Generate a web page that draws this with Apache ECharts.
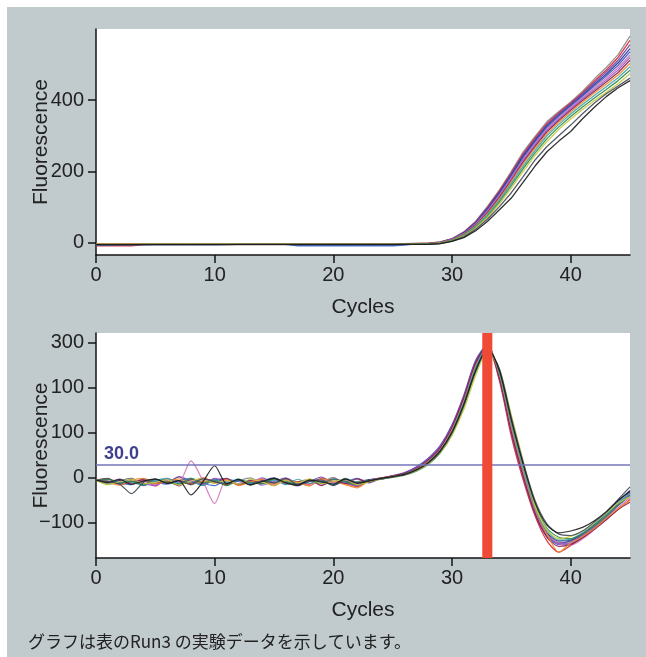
<!DOCTYPE html>
<html>
<head>
<meta charset="utf-8">
<script src="https://cdn.jsdelivr.net/npm/echarts@6/dist/echarts.min.js"></script>
<style>
  html, body { margin: 0; padding: 0; background: #ffffff; }
  #wrap { position: relative; width: 646px; height: 657px; }
  #panel { position: absolute; left: 7px; top: 7px; right: 0; bottom: 0; background: #c1cacc; }
  #chart { position: absolute; left: 0; top: 0; width: 646px; height: 657px; }
</style>
</head>
<body>
<div id="wrap"><div id="panel"></div><div id="chart"></div></div>
<script>
// ---------- DATA ----------
const cycles = [0,1,2,3,4,5,6,7,8,9,10,11,12,13,14,15,16,17,18,19,20,21,22,23,24,25,26,27,28,29,30,31,32,33,34,35,36,37,38,39,40,41,42,43,44,45];
const xTickValues = [0, 10, 20, 30, 40];
const topYTickValues = [0, 200, 400];
const bottomYTickValues = [-100, 0, 100, 200, 300];
const bottomYTickLabels = ['\u2212100', '0', '100', '100', '300'];
const thresholdValue = 30;
const thresholdLabel = '30.0';
const ctBand = [32.55, 33.4];
const xTitle = 'Cycles';
const yTitle = 'Fluorescence';
const caption = 'グラフは表のRun3 の実験データを示しています。';
const wellColors = ['#8a8a8a','#d8262e','#6b3fa6','#2a2e8c','#3b62c6','#d472b8','#9a5bc4','#8c1d4e','#f0882a','#3aa3a8','#2e8b4a','#c6c640','#404a5a','#1b1b1b'];

// Amplification curves (top panel), cycles 0..45
const amp01 = [-4,-4,-5,-5,-4,-4,-5,-4,-4,-5,-4,-4,-3,-4,-4,-3,-4,-4,-3,-4,-3,-3,-4,-3,-3,-3,-3,-2,-2,2,11,30,60,102,148,200,255,298,340,368,395,425,460,492,528,580];
const amp02 = [-9,-9,-9,-9,-6,-5,-5,-4,-4,-4,-4,-4,-4,-4,-3,-4,-4,-4,-3,-3,-4,-3,-3,-4,-3,-3,-3,-3,-2,1,10,29,58,99,145,196,250,294,335,365,392,421,454,485,520,568];
const amp03 = [-5,-5,-5,-4,-5,-4,-4,-5,-4,-4,-4,-5,-4,-4,-4,-4,-3,-4,-4,-4,-3,-4,-4,-3,-3,-4,-3,-3,-3,1,10,28,57,97,142,193,246,290,331,362,389,418,449,479,512,556];
const amp04 = [-6,-6,-6,-5,-5,-5,-5,-5,-5,-4,-4,-4,-4,-4,-4,-4,-4,-4,-4,-4,-4,-4,-4,-4,-4,-4,-4,-3,-3,0,9,27,55,94,139,189,242,286,327,358,386,414,444,473,505,545];
const amp05 = [-7,-7,-6,-6,-6,-6,-6,-6,-6,-6,-6,-5,-5,-5,-5,-5,-5,-9,-9,-9,-9,-9,-9,-9,-9,-9,-7,-4,-3,0,9,26,54,92,136,186,238,282,323,355,383,411,440,468,498,536];
const amp06 = [-5,-5,-5,-5,-5,-4,-5,-5,-4,-4,-5,-4,-4,-4,-4,-4,-4,-4,-4,-3,-4,-4,-3,-4,-3,-3,-3,-3,-3,0,8,25,52,89,133,182,234,278,319,351,380,407,435,462,491,527];
const amp07 = [-6,-6,-5,-6,-5,-5,-5,-5,-5,-5,-5,-5,-4,-5,-4,-4,-5,-4,-4,-4,-4,-4,-4,-4,-4,-4,-4,-4,-4,-1,8,24,51,87,130,179,230,274,315,347,376,403,430,457,485,520];
const amp08 = [-5,-5,-5,-5,-5,-5,-4,-5,-5,-4,-4,-4,-4,-4,-4,-4,-4,-4,-4,-4,-4,-4,-4,-4,-4,-4,-4,-4,-4,-1,7,23,49,84,127,175,226,270,311,343,372,399,425,451,478,512];
const amp09 = [-4,-4,-4,-4,-4,-4,-4,-4,-4,-4,-4,-4,-4,-4,-4,-4,-4,-4,-4,-4,-4,-4,-4,-4,-4,-4,-4,-4,-4,-1,7,22,47,81,123,171,221,265,306,338,367,394,420,445,471,503];
const amp10 = [-6,-6,-6,-6,-5,-5,-5,-5,-5,-5,-5,-5,-5,-5,-5,-5,-5,-5,-5,-5,-5,-5,-5,-5,-5,-5,-5,-5,-4,-2,6,21,45,78,119,166,215,259,300,332,361,388,413,438,463,494];
const amp11 = [-5,-5,-5,-5,-5,-5,-5,-5,-5,-5,-5,-5,-5,-5,-5,-5,-5,-5,-5,-5,-5,-5,-5,-5,-5,-5,-5,-5,-4,-2,6,19,42,74,114,160,208,252,292,325,354,381,406,430,455,484];
const amp12 = [-5,-5,-5,-5,-5,-5,-5,-5,-5,-5,-5,-5,-5,-5,-5,-5,-5,-5,-5,-5,-5,-5,-5,-5,-5,-5,-5,-5,-5,-2,5,18,40,71,109,153,200,245,284,318,347,374,399,422,446,474];
const amp13 = [-6,-6,-6,-6,-6,-6,-6,-6,-6,-6,-6,-6,-5,-5,-5,-5,-5,-5,-5,-5,-5,-5,-5,-5,-5,-5,-5,-5,-5,-3,4,16,37,66,101,140,185,232,270,300,330,362,392,418,440,462];
const amp14 = [-6,-6,-6,-6,-6,-6,-6,-6,-6,-6,-6,-6,-6,-6,-6,-6,-6,-6,-6,-6,-6,-6,-6,-6,-6,-6,-5,-5,-5,-3,3,14,33,60,92,125,170,215,255,285,312,348,380,410,435,455];

// Derivative curves (bottom panel), cycles 0..45
const der01 = [-5,-6,-12,-2,-15,-4,-9,2,-14,-6,-3,-16,-7,0,-12,-5,-10,-18,-3,-9,1,-13,-8,-4,-2,3,9,20,37,64,108,170,246,292,230,110,10,-74,-124,-143,-142,-127,-107,-84,-58,-32];
const der02 = [-5,-10,-3,-14,-6,-18,-2,-8,-12,0,-9,-15,-4,-11,-6,-17,-3,-10,-14,-1,-8,-12,-19,-5,0,4,9,20,38,66,115,182,258,290,215,92,-5,-85,-140,-165,-150,-132,-112,-92,-70,-48];
const der03 = [-5,-2,-13,-8,-16,-4,-10,3,-7,-14,-5,-1,-15,-9,-3,-12,-6,-17,-8,2,-11,-6,-14,-8,-1,5,12,25,44,72,118,184,262,296,222,100,2,-80,-128,-145,-140,-126,-108,-86,-58,-35];
const der04 = [-4,-12,-6,-1,-17,-8,-3,-13,-9,-16,-2,-10,-5,-14,-7,0,-11,-15,-6,-12,-2,-9,-16,-4,-2,3,10,22,40,68,112,176,252,294,228,108,12,-72,-122,-140,-138,-124,-104,-80,-52,-28];
const der05 = [-6,-3,-11,-15,-2,-9,-14,-6,-1,-12,-17,-4,-8,-13,0,-10,-5,-16,-7,-3,-14,-9,-1,-11,-1,4,11,23,42,70,116,180,258,298,222,104,5,-78,-130,-148,-146,-130,-110,-88,-62,-38];
const der06 = [-4,-9,-2,-13,-7,-16,-5,-8,38,-6,-57,-3,-14,-9,-1,-15,-6,-11,-17,-4,-10,-2,-13,-8,-3,2,9,21,39,65,110,174,250,292,225,106,8,-76,-126,-146,-150,-136,-115,-92,-66,-44];
const der07 = [-4,-14,-8,-3,-12,-17,-2,-10,-6,-15,-1,-9,-13,-5,-16,-8,0,-12,-7,-14,-3,-11,-18,-6,0,4,10,22,41,69,114,178,254,293,224,106,6,-77,-127,-146,-144,-128,-108,-86,-60,-36];
const der08 = [-5,-1,-15,-9,-4,-13,-7,-18,-3,-11,-8,-2,-16,-6,-12,-1,-14,-9,-4,-17,-7,-13,-2,-10,-1,4,10,21,40,67,113,178,256,295,220,102,4,-79,-132,-152,-148,-133,-114,-93,-70,-54];
const der09 = [-4,-11,-16,-5,-1,-13,-8,-2,-15,-7,-12,-4,-17,-9,-3,-14,-6,-10,-18,-2,-8,-15,-22,-7,-1,3,8,19,36,62,106,170,248,290,230,114,15,-70,-125,-165,-145,-130,-112,-90,-68,-50];
const der10 = [-5,-13,-3,-10,-16,-6,-1,-12,-8,-17,-4,-11,-2,-14,-9,-5,-15,-3,-12,-7,-16,-1,-10,-6,-2,2,8,18,35,61,104,168,246,290,232,119,20,-66,-118,-138,-136,-122,-102,-80,-55,-34];
const der11 = [-6,-2,-12,-7,-15,-3,-9,-14,-1,-11,-6,-17,-4,-10,-13,-2,-8,-16,-5,-12,-3,-9,-15,-7,-3,1,6,15,30,55,96,158,234,285,240,132,30,-58,-112,-132,-135,-124,-106,-84,-60,-40];
const der12 = [-5,-15,-8,-2,-13,-10,-4,-16,-7,-1,-12,-6,-14,-3,-9,-17,-5,-11,-2,-13,-8,-4,-15,-9,-2,2,7,16,31,56,95,152,228,282,242,140,38,-62,-115,-135,-130,-118,-100,-78,-56,-42];
const der13 = [-5,-8,-14,-35,-10,-3,-12,-6,-15,-2,-9,-13,-4,-16,-7,-11,-1,-14,-8,-5,-17,-3,-10,-6,-2,2,7,17,33,58,100,162,238,288,242,134,35,-50,-102,-125,-128,-118,-98,-76,-48,-20];
const der14 = [-5,-10,-4,-14,-7,-2,-12,-6,-38,-9,27,-13,-3,-15,-8,-1,-11,-16,-5,-9,-14,-2,-12,-7,-1,3,8,18,34,60,102,164,240,288,238,128,30,-55,-105,-122,-118,-110,-95,-75,-50,-30];

const ampCurves = [amp01,amp02,amp03,amp04,amp05,amp06,amp07,amp08,amp09,amp10,amp11,amp12,amp13,amp14];
const derCurves = [der01,der02,der03,der04,der05,der06,der07,der08,der09,der10,der11,der12,der13,der14];

// ---------- CHART ----------
const FONT = 'Liberation Sans';
const axisColor = '#151515';
const textColor = '#222222';

function xAxisCfg(gi) {
  return {
    gridIndex: gi, type: 'value', min: 0, max: 45,
    axisLine: { show: true, onZero: false, lineStyle: { color: axisColor, width: 1.5 } },
    axisTick: { show: true, length: 8, customValues: xTickValues, lineStyle: { color: axisColor, width: 1.5 } },
    axisLabel: { customValues: xTickValues, fontSize: 20, color: textColor, margin: 10, fontFamily: FONT },
    splitLine: { show: false },
    name: xTitle, nameLocation: 'middle', nameGap: 42, nameMoveOverlap: false,
    nameTextStyle: { fontSize: 21, color: textColor, fontFamily: FONT }
  };
}
function yAxisCfg(gi, min, max, ticks, fmt) {
  return {
    gridIndex: gi, type: 'value', min: min, max: max,
    axisLine: { show: true, onZero: false, lineStyle: { color: axisColor, width: 1.5 } },
    axisTick: { show: true, length: 8, customValues: ticks, lineStyle: { color: axisColor, width: 1.5 } },
    axisLabel: { customValues: ticks, fontSize: 20, color: textColor, margin: 12, fontFamily: FONT, formatter: fmt },
    splitLine: { show: false },
    name: yTitle, nameLocation: 'middle', nameGap: 44, nameRotate: 90, nameMoveOverlap: false,
    nameTextStyle: { fontSize: 21, color: textColor, fontFamily: FONT }
  };
}

const series = [];
ampCurves.forEach((arr, i) => {
  series.push({
    type: 'line', xAxisIndex: 0, yAxisIndex: 0, name: 'Amp ' + (i + 1),
    data: arr.map((v, k) => [cycles[k], v]),
    showSymbol: false, silent: true, z: 2,
    lineStyle: { width: 1.3, color: wellColors[i], opacity: 0.9 }
  });
});
derCurves.forEach((arr, i) => {
  series.push({
    type: 'line', xAxisIndex: 1, yAxisIndex: 1, name: 'Der ' + (i + 1),
    data: arr.map((v, k) => [cycles[k], v]),
    showSymbol: false, silent: true, z: 2, smooth: 0.25,
    lineStyle: { width: 1.2, color: wellColors[i], opacity: 0.9 }
  });
});
// threshold line
series.push({
  type: 'line', xAxisIndex: 1, yAxisIndex: 1, data: [], z: 3, silent: true,
  markLine: {
    silent: true, symbol: ['none', 'none'],
    lineStyle: { color: '#7575b8', width: 1.5, type: 'solid' },
    label: { show: true, position: 'insideStartTop', formatter: thresholdLabel, color: '#3f3f8f',
             fontWeight: 'bold', fontSize: 18, fontFamily: FONT, distance: [8, 1] },
    data: [{ yAxis: thresholdValue }]
  }
});
// Ct bar
series.push({
  type: 'line', xAxisIndex: 1, yAxisIndex: 1, data: [], z: 10, silent: true,
  markArea: {
    silent: true, z: 10,
    itemStyle: { color: '#ee4a36', opacity: 1 },
    data: [[{ xAxis: ctBand[0] }, { xAxis: ctBand[1] }]]
  }
});

const chart = echarts.init(document.getElementById('chart'), null, { renderer: 'canvas' });
chart.setOption({
  backgroundColor: 'transparent',
  animation: false,
  grid: [
    { left: 96, right: 16, top: 29, height: 226, show: true, backgroundColor: '#ffffff', borderWidth: 0 },
    { left: 96, right: 16, top: 333, height: 225, show: true, backgroundColor: '#ffffff', borderWidth: 0 }
  ],
  xAxis: [xAxisCfg(0), xAxisCfg(1)],
  yAxis: [
    yAxisCfg(0, -35, 600, topYTickValues, v => String(v)),
    yAxisCfg(1, -178, 322, bottomYTickValues, v => bottomYTickLabels[bottomYTickValues.indexOf(v)] ?? String(v))
  ],
  graphic: [{
    type: 'text', left: 28, top: 633,
    style: { text: caption, fontSize: 17, fill: '#222222', fontFamily: 'Noto Sans CJK JP' }
  }],
  series: series
});
</script>
</body>
</html>
